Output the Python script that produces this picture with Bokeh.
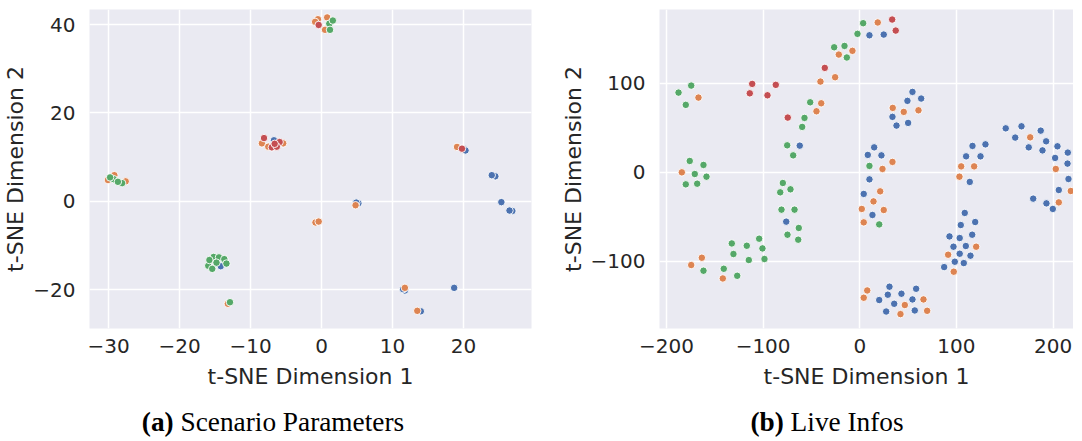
from bokeh.plotting import figure
from bokeh.layouts import row, column
from bokeh.models import Div, FixedTicker, Range1d
from bokeh.embed import file_html
from bokeh.resources import INLINE

# ---------------- data: panel (a) Scenario Parameters ----------------
a_blue_x = [-6.7, 5.2, 4.9, 20.1, 20.3, 24.5, 24.0, 25.35, 26.9, 26.5, 11.75, 11.5, 18.7, 14.0, -14.2]
a_blue_y = [13.8, -0.45, -0.3, 11.8, 11.5, 5.65, 5.9, -0.2, -2.2, -2.1, -20.2, -19.9, -19.6, -24.9, -14.7]
a_orange_x = [-0.5, 0.8, 0.5, -0.9, -8.4, -5.4, -7.5, -30.1, -29.2, -27.6, -13.2, -0.85, -0.4, 4.8, 19.1, 11.75, 13.5]
a_orange_y = [41.2, 41.6, 38.8, 40.6, 13.1, 13.1, 12.35, 4.8, 5.9, 4.5, -23.2, -4.8, -4.6, -0.9, 12.3, -19.6, -24.8]
a_green_x = [1.1, 1.2, 1.6, -29.3, -28.1, -28.7, -29.8, -15.2, -14.45, -13.7, -15.96, -15.4, -13.4, -15.8, -14.8, -12.9]
a_green_y = [40.2, 38.8, 40.9, 5.0, 4.1, 4.4, 5.4, -12.6, -12.7, -13.1, -14.6, -15.3, -14.1, -13.3, -13.9, -22.85]
a_red_x = [-0.4, -8.1, -5.9, -7.0, -6.3, -6.6, 19.8]
a_red_y = [39.9, 14.3, 13.4, 12.2, 12.35, 13.0, 11.9]

# ---------------- data: panel (b) Live Infos ----------------
b_blue_x = [10, 24.8, 54.5, 49.3, 63.5, 33.8, 38, 50, 14.9, 8.3, 22.4, 116.6, 130, 110, 124.9, 151, 167.3,
            160.8, 187.2, 192.8, 174.8, 189, 204.5, 215.2, 202.1, 214.9, 10, 4.1, 13.1, -62.1, -76.1, 113.8,
            215.9, 205.9, 179.4, 193.1, 199.7, 108.6, 104.5, 119.4, 92.8, 103.4, 116.3, 96.9, 109.7, 103.4,
            114.5, 98.3, 107.6, 87.3, 30.7, 58.3, 29, 43.1, 20.1, 54.5, 35.6, 27.3, 56.9]
b_blue_y = [154, 154.8, 90.3, 80.2, 82.8, 62.2, 52.4, 55.4, 27.9, 19.4, 18.9, 29.5, 31.3, 17.8, 17.8, 49.3, 51.6,
            38.9, 46.7, 34.7, 27.9, 24.5, 29.1, 22, 16, 9.6, -8.1, -24.5, -48.2, 29.8, -55.7, -11,
            -7.7, -20.1, -29.8, -35.1, -41.4, -45.9, -59.5, -56.1, -72.3, -74.1, -70.4, -83.9, -83.1, -91.8,
            -94, -100.8, -102.3, -106.8, -128.9, -131.2, -137.9, -136.8, -143.9, -143.2, -148.1, -156.8, -155.6]
b_orange_x = [18.6, -21.7, -7.6, -25.5, -40.7, -166.9, -39.9, -44.8, 34.1, 45.5, 60.7, 23.5, 33.8, 104.9, 118.3,
              176.3, 202.8, -184.1, -163.4, -174.4, -141.7, 2.1, 4.1, 7.7, 4.1, 21.1, 14.2, 24.8, 103.1, 218.3,
              205.9, 120.4, 91.4, 97.2, 65.9, 46.6, 42.1, 69.7]
b_orange_y = [168.4, 132.3, 136.5, 106.8, 101.9, 83.9, 77.5, 68.5, 72.3, 67.8, 69.6, 3.6, 11.5, 6.5, 6.5,
              39.2, 3.6, -0.2, -96.3, -104.5, -119.6, -41.4, -56.5, -133.1, -141.3, -21.6, -32.9, -42.6, -5.1, -21.2,
              -34, -83.9, -92.9, -112, -143.2, -149.5, -159.7, -156]
b_green_x = [3.5, -2.4, -26.5, -15.8, -13.4, -174.4, -187.5, -180, -51.3, -57.2, -59.6, -75.1, -68.9, 10, -175.9,
             -161.7, -170.7, -158.6, -180, -168.2, -79.6, -82.3, -71.7, -81, -67.5, -63.1, -74.8, -63.7, -132.4,
             -116.9, -104.1, -130.7, -100.7, -114.8, -98.6, -161.7, -140.7, -126.8, 20.1]
b_green_y = [167.6, 155.6, 140.5, 142, 129, 97.4, 89.5, 75.7, 78.6, 61, 50.9, 30.2, 18.9, 7, 12.6,
             8.1, -2.1, -5.1, -13.7, -13, -12.2, -22.7, -19.3, -42.2, -42.2, -62.8, -70.4, -76, -80.2,
             -82.8, -74.9, -92.1, -85.8, -98.9, -97.7, -110.9, -108.7, -116.6, -58.8]
b_red_x = [33.5, 37.2, -36.2, -111.3, -113.8, -86.9, -95.5, -74.5]
b_red_y = [171.7, 159.3, 117.3, 99.3, 88.7, 98.2, 86.5, 61.4]

# ---------------- ticks & labels ----------------
a_xticks = [-30, -20, -10, 0, 10, 20]
a_xlabels = ["\u221230", "\u221220", "\u221210", "0", "10", "20"]
a_yticks = [-20, 0, 20, 40]
a_ylabels = ["\u221220", "0", "20", "40"]
b_xticks = [-200, -100, 0, 100, 200]
b_xlabels = ["\u2212200", "\u2212100", "0", "100", "200"]
b_yticks = [-100, 0, 100]
b_ylabels = ["\u2212100", "0", "100"]
x_title = "t-SNE Dimension 1"
y_title = "t-SNE Dimension 2"
cap_a = ("(a)", "Scenario Parameters")
cap_b = ("(b)", "Live Infos")

COLORS = {"blue": "#4C72B0", "orange": "#DD8452", "green": "#55A868", "red": "#C44E52"}
TXT = "#262626"
FONT = "DejaVu Sans"


def make_fig(frame_w, xr, yr, xt, xl, yt, yl, border_left, border_right):
    p = figure(frame_width=frame_w, frame_height=319, x_range=Range1d(*xr), y_range=Range1d(*yr),
               output_backend="svg", toolbar_location=None,
               min_border_left=border_left, min_border_right=border_right,
               min_border_top=9, min_border_bottom=75)
    p.background_fill_color = "#EAEAF2"
    p.border_fill_color = "white"
    p.outline_line_color = None
    p.grid.grid_line_color = "white"
    p.grid.grid_line_width = 1.5
    p.xaxis.ticker = FixedTicker(ticks=xt)
    p.yaxis.ticker = FixedTicker(ticks=yt)
    p.xaxis.major_label_overrides = {t: s for t, s in zip(xt, xl)}
    p.yaxis.major_label_overrides = {t: s for t, s in zip(yt, yl)}
    p.xaxis.axis_label = x_title
    p.yaxis.axis_label = y_title
    for ax in (p.xaxis[0], p.yaxis[0]):
        ax.axis_line_color = None
        ax.major_tick_line_color = None
        ax.minor_tick_line_color = None
        ax.major_label_text_font = FONT
        ax.major_label_text_font_size = "20px"
        ax.major_label_text_color = TXT
        ax.axis_label_text_font = FONT
        ax.axis_label_text_font_size = "22px"
        ax.axis_label_text_font_style = "normal"
        ax.axis_label_text_color = TXT
    p.xaxis.major_label_standoff = 4
    p.xaxis.axis_label_standoff = 8
    p.yaxis.major_label_standoff = 8
    p.yaxis.axis_label_standoff = 2
    return p


def add_points(p, groups):
    for name, xs, ys in groups:
        p.scatter(xs, ys, size=7.5, fill_color=COLORS[name], line_color="white", line_width=0.9)


p1 = make_fig(442, (-32.7, 29.6), (-28.8, 43.4), a_xticks, a_xlabels, a_yticks, a_ylabels, 85, 26)
add_points(p1, [("blue", a_blue_x, a_blue_y), ("orange", a_orange_x, a_orange_y),
                ("green", a_green_x, a_green_y), ("red", a_red_x, a_red_y)])

p2 = make_fig(414, (-207.2, 221.1), (-175.9, 183.0), b_xticks, b_xlabels, b_yticks, b_ylabels, 96, 0)
add_points(p2, [("blue", b_blue_x, b_blue_y), ("orange", b_orange_x, b_orange_y),
                ("green", b_green_x, b_green_y), ("red", b_red_x, b_red_y)])


def caption(parts, width, pad_left, inner_width):
    html = ('<div style="margin-left:%dpx;width:%dpx;padding-top:6px;text-align:center;white-space:nowrap;'
            'font-family:\'Liberation Serif\',serif;font-size:27.3px;line-height:1;color:#000;">'
            '<b>%s</b> %s</div>') % (pad_left, inner_width, parts[0], parts[1])
    return Div(text=html, width=width, height=34, margin=0)


c1 = caption(cap_a, 553, 8, 530)
c2 = caption(cap_b, 510, 25, 490)

layout = row(column(p1, c1, spacing=0), column(p2, c2, spacing=0), spacing=0)

open("out.html", "w").write(file_html(layout, INLINE))
